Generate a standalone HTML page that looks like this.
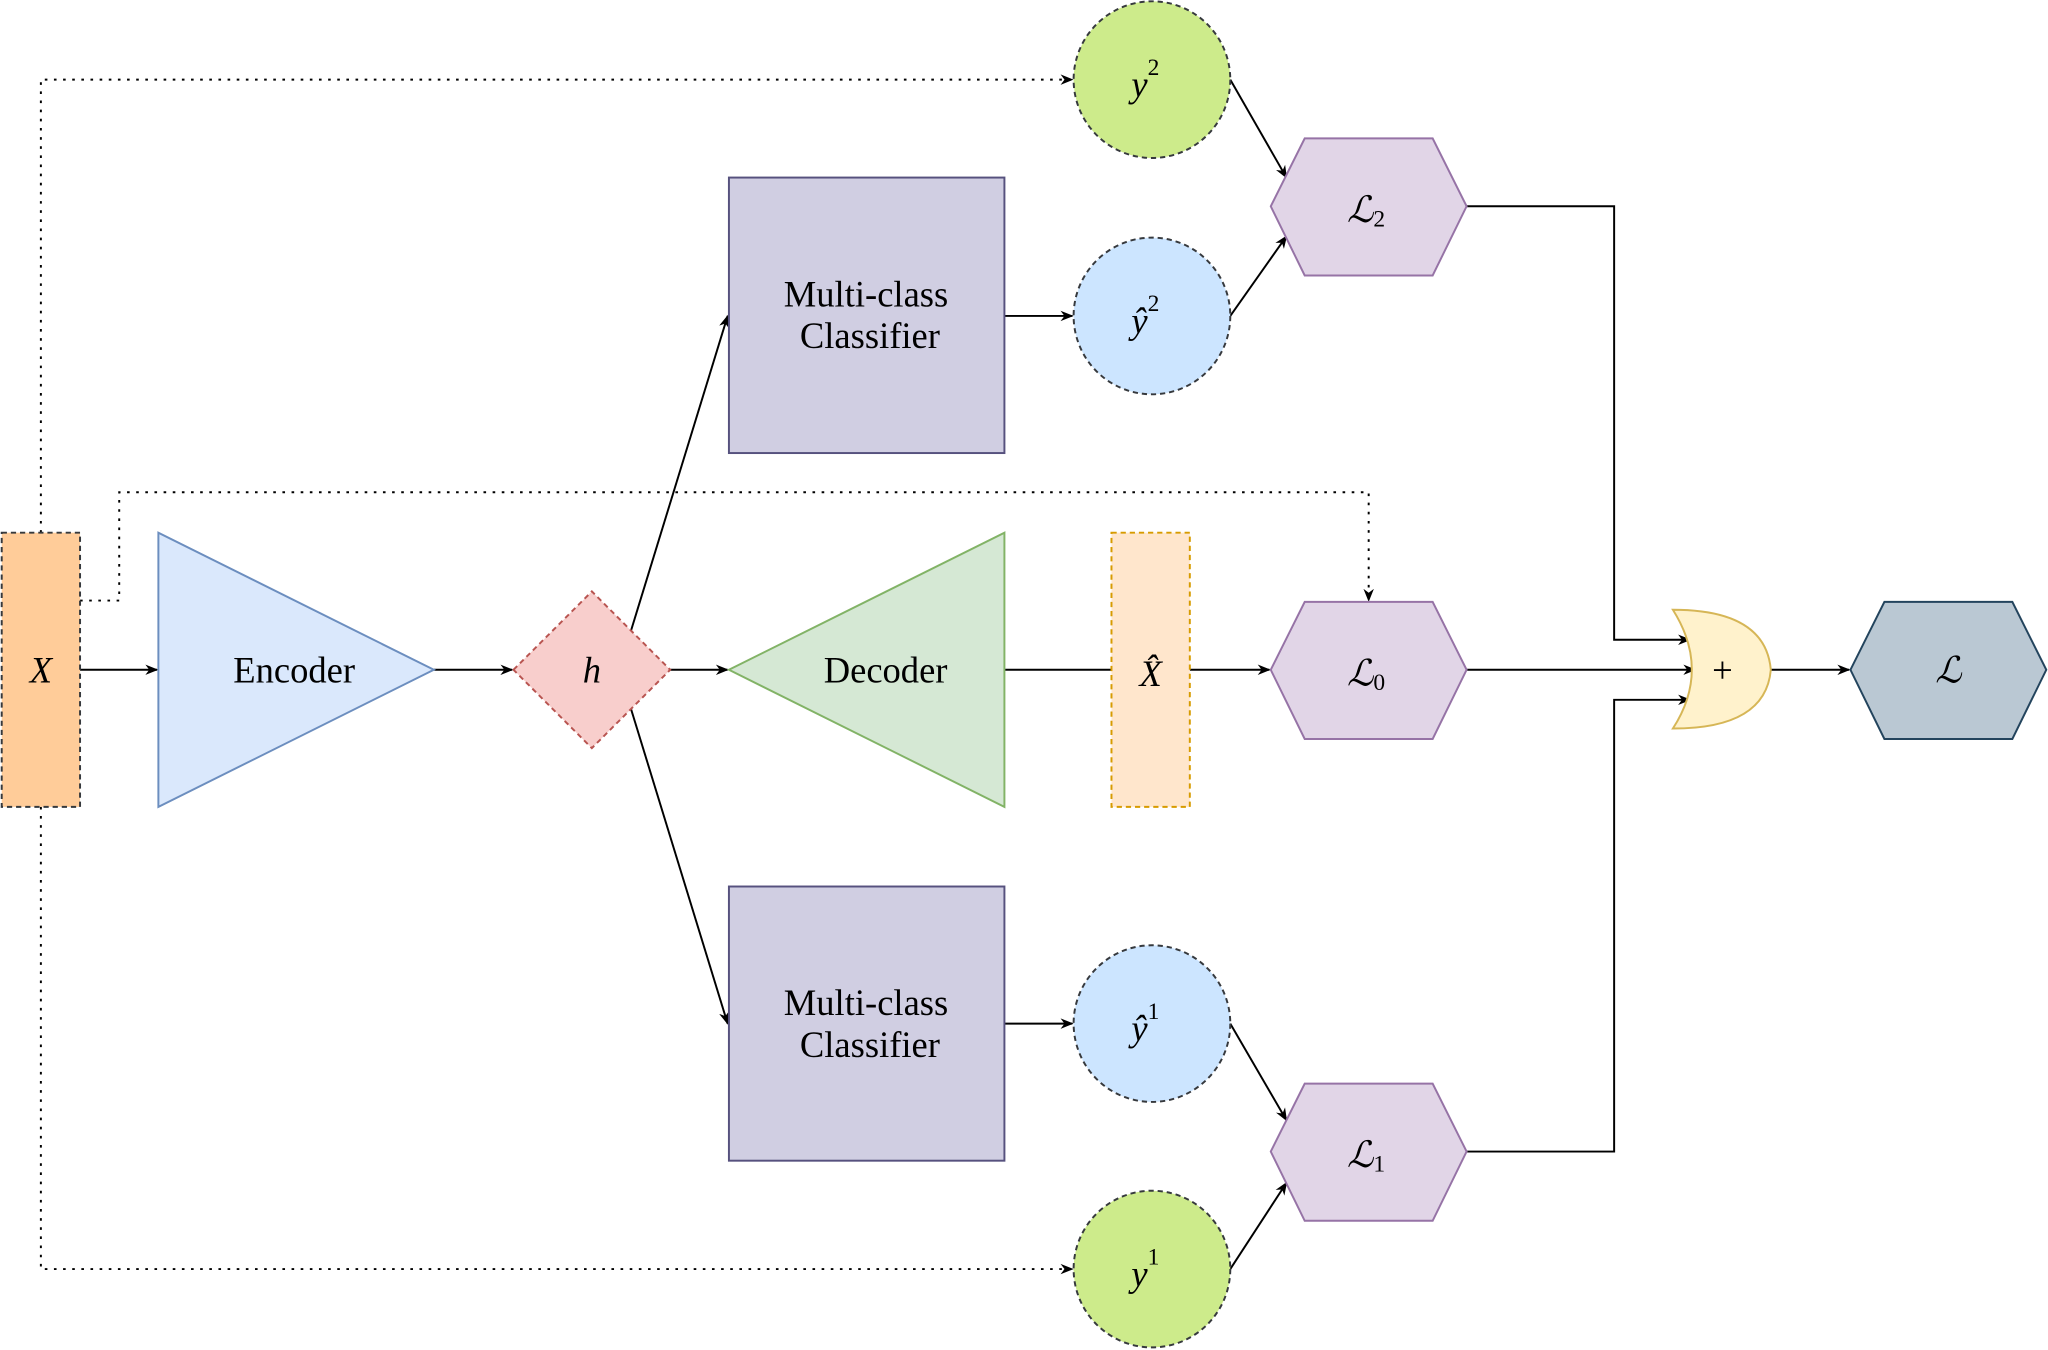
<!DOCTYPE html>
<html><head><meta charset="utf-8"><style>html,body{margin:0;padding:0;background:#fff}svg{display:block}</style></head>
<body>
<svg width="2048" height="1350" viewBox="0 0 1568 1034" xmlns="http://www.w3.org/2000/svg" font-family="'Liberation Serif', serif" font-size="28">
<defs><marker id="a" viewBox="0 0 10 10" refX="9" refY="5" markerWidth="10" markerHeight="10" markerUnits="userSpaceOnUse" orient="auto"><path d="M0,1 L10,5 L0,9 L3,5 z" fill="#000"/></marker></defs>
<g fill="none" stroke="#000" stroke-width="1.5">
<path d="M61,513H120" marker-end="url(#a)"/>
<path d="M332,513H392" marker-end="url(#a)"/>
<path d="M513,513H557" marker-end="url(#a)"/>
<path d="M483,483L557,242" marker-end="url(#a)"/>
<path d="M483,543L557,784" marker-end="url(#a)"/>
<path d="M769,242H821" marker-end="url(#a)"/>
<path d="M769,784H821" marker-end="url(#a)"/>
<path d="M769,513H851"/>
<path d="M911,513H972" marker-end="url(#a)"/>
<path d="M942,242L985,181" marker-end="url(#a)"/>
<path d="M942,61L985,136" marker-end="url(#a)"/>
<path d="M942,784L985,858" marker-end="url(#a)"/>
<path d="M942,972L985,906" marker-end="url(#a)"/>
<path d="M1123,158H1236V490H1294" marker-end="url(#a)"/>
<path d="M1123,513H1298" marker-end="url(#a)"/>
<path d="M1123,882H1236V536H1294" marker-end="url(#a)"/>
<path d="M1356,513H1416" marker-end="url(#a)"/>
<g stroke-dasharray="2,5">
<path d="M31,408V61H821" marker-end="url(#a)"/>
<path d="M31,618V972H821" marker-end="url(#a)"/>
<path d="M61,460H91V377H1048V460" marker-end="url(#a)"/>
</g>
</g>
<rect x="1" y="408" width="60" height="210" fill="#ffcc99" stroke="#36393d" stroke-width="1.5" stroke-dasharray="4,3"/>
<polygon points="121,408 121,618 332,513" fill="#dae8fc" stroke="#6c8ebf" stroke-width="1.5"/>
<polygon points="393,513 453,453 513,513 453,573" fill="#f8cecc" stroke="#b85450" stroke-width="1.5" stroke-dasharray="4,3"/>
<polygon points="558,513 769,408 769,618" fill="#d5e8d4" stroke="#82b366" stroke-width="1.5"/>
<rect x="851" y="408" width="60" height="210" fill="#ffe6cc" stroke="#d79b00" stroke-width="1.5" stroke-dasharray="4,3"/>
<rect x="558" y="136" width="211" height="211" fill="#d0cee2" stroke="#56517e" stroke-width="1.5"/>
<rect x="558" y="679" width="211" height="210" fill="#d0cee2" stroke="#56517e" stroke-width="1.5"/>
<g stroke="#36393d" stroke-width="1.5" stroke-dasharray="4,3">
<circle cx="882" cy="61" r="60" fill="#cdeb8b"/>
<circle cx="882" cy="242" r="60" fill="#cce5ff"/>
<circle cx="882" cy="784" r="60" fill="#cce5ff"/>
<circle cx="882" cy="972" r="60" fill="#cdeb8b"/>
</g>
<g fill="#e1d5e7" stroke="#9673a6" stroke-width="1.5">
<polygon points="973,158 999,106 1097,106 1123,158 1097,211 999,211"/>
<polygon points="973,513 999,461 1097,461 1123,513 1097,566 999,566"/>
<polygon points="973,882 999,830 1097,830 1123,882 1097,935 999,935"/>
</g>
<polygon points="1417,513 1443,461 1541,461 1567,513 1541,566 1443,566" fill="#bac8d3" stroke="#23445d" stroke-width="1.5"/>
<path d="M1281,467 Q1352,467 1356,513 Q1352,558 1281,558 Q1310,513 1281,467 z" fill="#fff2cc" stroke="#d6b656" stroke-width="1.5"/>
<g text-anchor="middle" dominant-baseline="central" fill="#000">
<text x="31" y="513" font-style="italic">X</text>
<text x="225" y="513">Encoder</text>
<text x="453" y="513" font-style="italic">h</text>
<text x="678" y="513">Decoder</text>
<text x="881" y="516" font-style="italic">X̂</text>
<text x="663" y="225">Multi-class</text><text x="666" y="257">Classifier</text>
<text x="663" y="768">Multi-class</text><text x="666" y="800">Classifier</text>
<text x="877" y="64"><tspan font-style="italic">y</tspan><tspan font-size="18" dy="-12">2</tspan></text>
<text x="877" y="245"><tspan font-style="italic">ŷ</tspan><tspan font-size="18" dy="-12">2</tspan></text>
<text x="877" y="787"><tspan font-style="italic">ŷ</tspan><tspan font-size="18" dy="-12">1</tspan></text>
<text x="877" y="975"><tspan font-style="italic">y</tspan><tspan font-size="18" dy="-12">1</tspan></text>
<text x="1046" y="160"><tspan font-style="italic">ℒ</tspan><tspan font-size="18" dy="8">2</tspan></text>
<text x="1046" y="515"><tspan font-style="italic">ℒ</tspan><tspan font-size="18" dy="8">0</tspan></text>
<text x="1046" y="884"><tspan font-style="italic">ℒ</tspan><tspan font-size="18" dy="8">1</tspan></text>
<text x="1319" y="513">+</text>
<text x="1492" y="513" font-style="italic">ℒ</text>
</g>
</svg>
</body></html>
